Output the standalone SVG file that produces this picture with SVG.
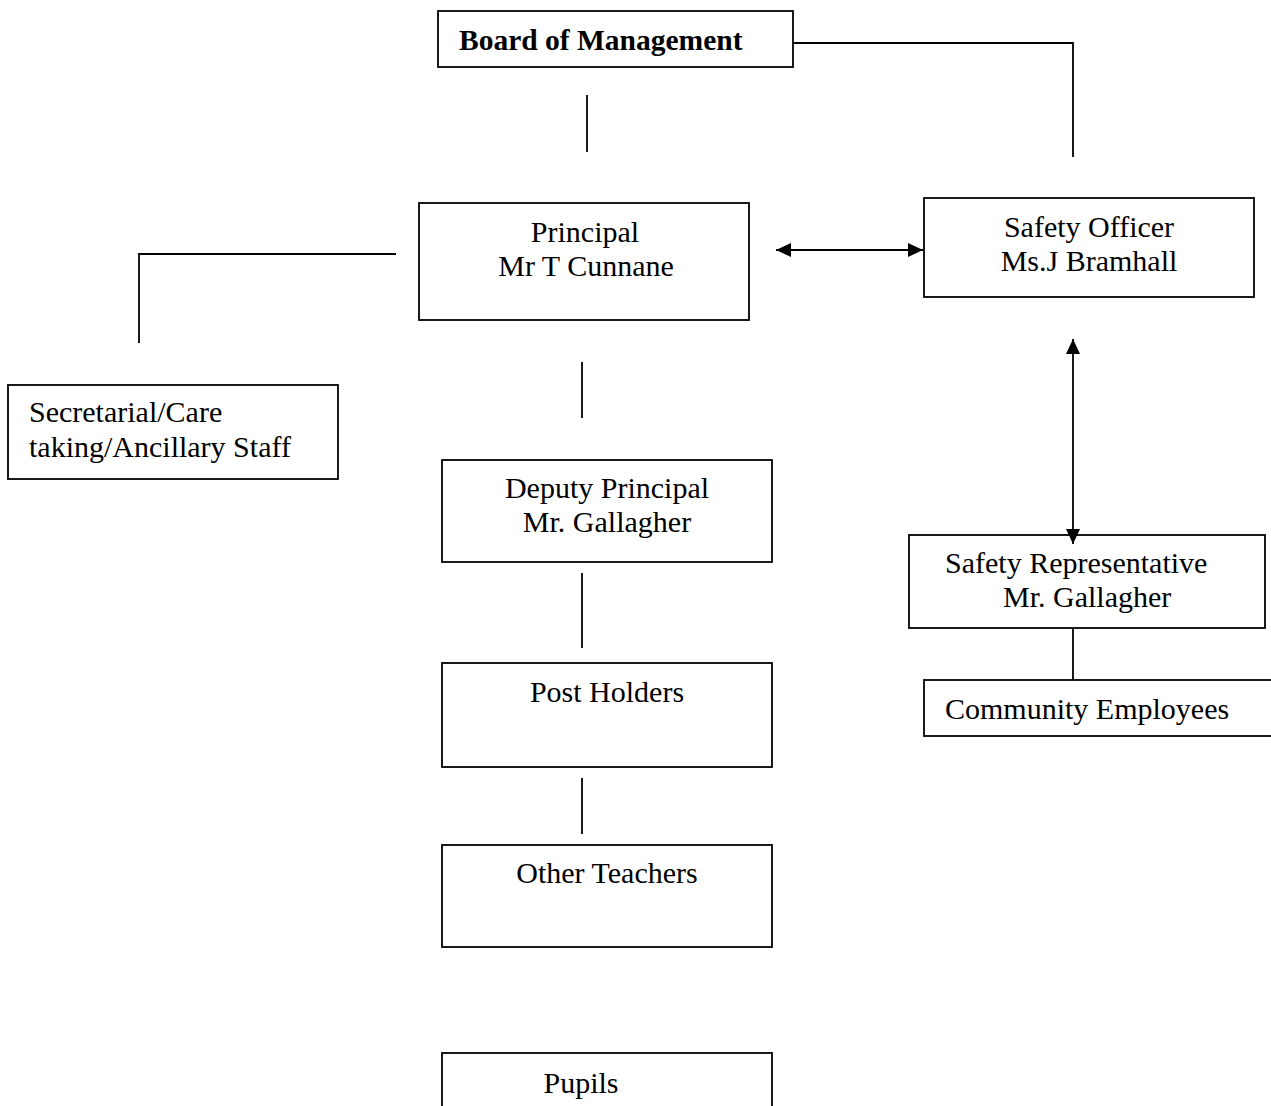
<svg xmlns="http://www.w3.org/2000/svg" width="1271" height="1106" viewBox="0 0 1271 1106">
<style>
.box{fill:#fff;stroke:#000;stroke-width:1.8}
.ln{fill:none;stroke:#000;stroke-width:1.8}
text{font-family:"Liberation Serif","Times New Roman",serif;font-size:30px;fill:#000}
.c{text-anchor:middle}
.b{font-weight:bold;font-size:29.5px}
</style>
<defs>
<marker id="ah" viewBox="0 0 15 14" refX="15" refY="7" markerWidth="15" markerHeight="14" markerUnits="userSpaceOnUse" orient="auto-start-reverse">
<path d="M0,0 L15,7 L0,14 Z" fill="#000"/>
</marker>
</defs>
<g id="board">
<rect class="box" x="438" y="11" width="355" height="56"/>
<text class="b" x="459" y="50">Board of Management</text>
</g>
<g id="principal">
<rect class="box" x="419" y="203" width="330" height="117"/>
<text class="c" x="585" y="242">Principal</text>
<text class="c" x="586" y="276">Mr T Cunnane</text>
</g>
<g id="safety-officer">
<rect class="box" x="924" y="198" width="330" height="99"/>
<text class="c" x="1089" y="237">Safety Officer</text>
<text class="c" x="1089" y="271">Ms.J Bramhall</text>
</g>
<g id="secretarial">
<rect class="box" x="8" y="385" width="330" height="94"/>
<text x="29" y="422">Secretarial/Care</text>
<text x="29" y="457">taking/Ancillary Staff</text>
</g>
<g id="deputy">
<rect class="box" x="442" y="460" width="330" height="102"/>
<text class="c" x="607" y="498">Deputy Principal</text>
<text class="c" x="607" y="532">Mr. Gallagher</text>
</g>
<g id="safety-rep">
<rect class="box" x="909" y="535" width="356" height="93"/>
<text x="945" y="573">Safety Representative</text>
<text x="1003" y="607">Mr. Gallagher</text>
</g>
<g id="community">
<rect class="box" x="924" y="680" width="352" height="56"/>
<text x="945" y="719">Community Employees</text>
</g>
<g id="post-holders">
<rect class="box" x="442" y="663" width="330" height="104"/>
<text class="c" x="607" y="702">Post Holders</text>
</g>
<g id="other-teachers">
<rect class="box" x="442" y="845" width="330" height="102"/>
<text class="c" x="607" y="883">Other Teachers</text>
</g>
<g id="pupils">
<rect class="box" x="442" y="1053" width="330" height="70"/>
<text class="c" x="581" y="1093">Pupils</text>
</g>
<g id="connectors">
<polyline class="ln" points="793,43 1073,43 1073,157"/>
<line class="ln" x1="587" y1="95" x2="587" y2="152"/>
<polyline class="ln" points="396,254 139,254 139,343"/>
<line class="ln" x1="776" y1="250" x2="923" y2="250" marker-start="url(#ah)" marker-end="url(#ah)"/>
<line class="ln" x1="1073" y1="339" x2="1073" y2="544" marker-start="url(#ah)" marker-end="url(#ah)"/>
<line class="ln" x1="582" y1="362" x2="582" y2="418"/>
<line class="ln" x1="582" y1="573" x2="582" y2="648"/>
<line class="ln" x1="582" y1="778" x2="582" y2="834"/>
<line class="ln" x1="1073" y1="628" x2="1073" y2="680"/>
</g>
</svg>
